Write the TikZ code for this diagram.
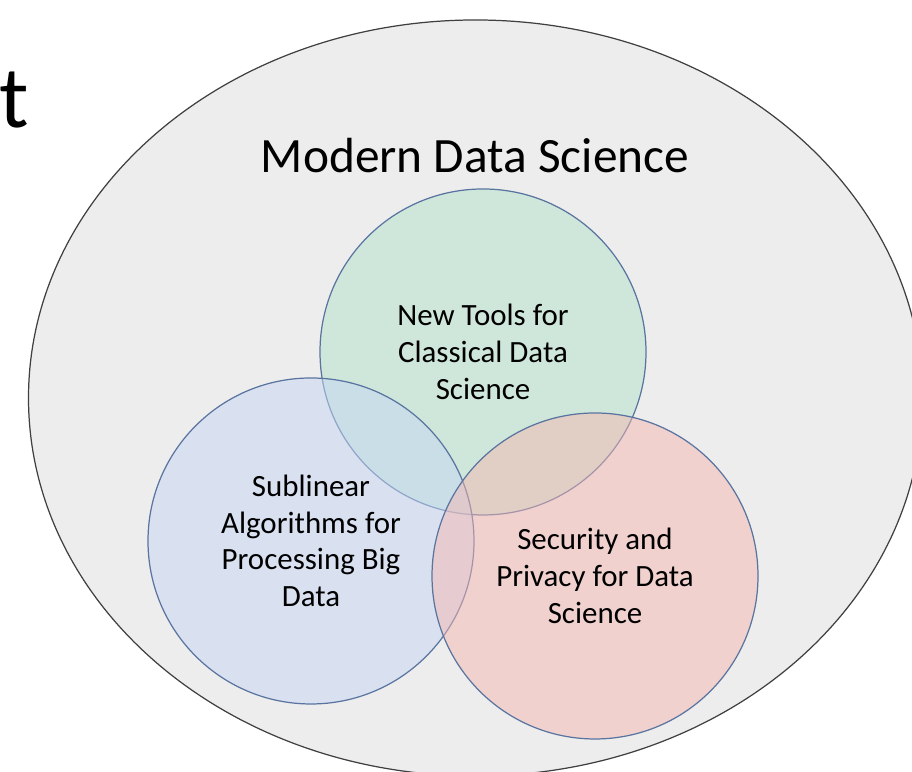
\documentclass[tikz,border=0pt]{standalone}
\usepackage{fontspec}
\setmainfont{Carlito}
\usepackage{tikz}
\usetikzlibrary{positioning}
\definecolor{outerfill}{HTML}{EDEDED}
\definecolor{outerline}{HTML}{404040}
\definecolor{setline}{HTML}{5A74A0}
\definecolor{toolsfill}{HTML}{B3E3CB}
\definecolor{sublinfill}{HTML}{C7D7F5}
\definecolor{privfill}{HTML}{F3B7B1}

\tikzset{
    setcircle/.style={circle, draw=setline, line width=0.35pt, minimum size=3.26cm,
        fill opacity=0.5, text opacity=1, align=center,
        font=\fontsize{8.8}{10.45}\selectfont},
}

\begin{document}
\begin{tikzpicture}
    \useasboundingbox (0,0) rectangle (9.12,7.72);
    \clip (0,0) rectangle (9.12,7.72);

    % Outer set
    \draw[fill=outerfill, draw=outerline, line width=0.35pt] (4.755,3.74) ellipse (4.47 and 3.78);
    \node[anchor=base] (title) at (4.75,5.99) {\fontsize{14.05}{17}\selectfont Modern Data Science};

    % Heading cut at the left edge
    \node[anchor=base west, inner sep=0pt] (head) at (-0.01,6.44) {\fontsize{25}{30}\selectfont t};

    % The three subsets
    \node[setcircle, fill=toolsfill] (tools) at (4.83,4.20) {New Tools for\\Classical Data\\Science};
    \node[setcircle, fill=sublinfill] (sublin) at (3.11,2.31) {Sublinear\\Algorithms for\\Processing Big\\Data};
    \node[setcircle, fill=privfill] (priv) at (5.95,1.96) {Security and\\Privacy for Data\\Science};
\end{tikzpicture}
\end{document}
